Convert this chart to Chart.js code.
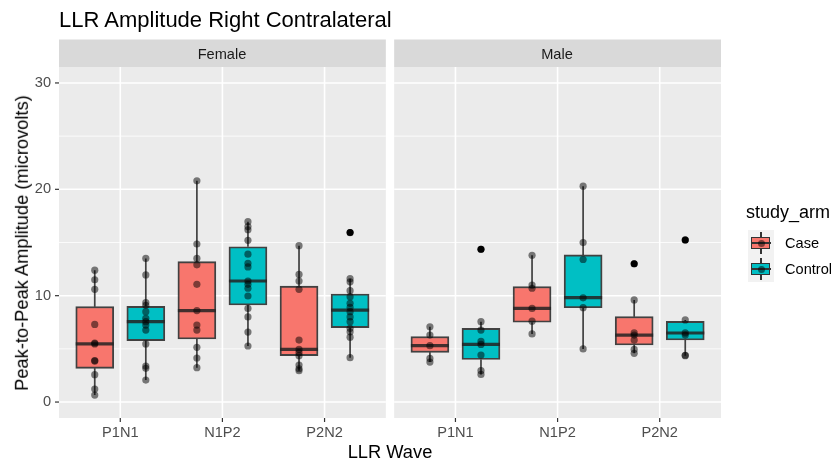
<!DOCTYPE html>
<html>
<head>
<meta charset="utf-8">
<script src="https://cdn.jsdelivr.net/npm/chart.js@4.4.1/dist/chart.umd.min.js"></script>
<style>
  body { margin: 0; background: #fff; font-family: "Liberation Sans", Arial, sans-serif; }
  #wrap { position: relative; width: 833px; height: 462px; overflow: hidden; }
  #plot { position: absolute; left: 0; top: 0; }
  .txt { position: absolute; white-space: nowrap; line-height: 1; }
  .c { transform: translate(-50%, -50%); }
  .strip { font-size: 14.6px; color: #1A1A1A; }
  .key { position: absolute; width: 26px; height: 26px; background: #F2F2F2; }
  .key .wh { position: absolute; left: 12.2px; top: 2px; width: 1.6px; height: 22px; background: #333; }
  .key .bx { position: absolute; left: 3px; top: 6.5px; width: 17px; height: 10px; border: 1.6px solid #333; }
  .key .md { position: absolute; left: 3px; top: 11.8px; width: 20px; height: 2.4px; background: #333; }
  .key .pt { position: absolute; left: 9.5px; top: 9.5px; width: 7px; height: 7px; border-radius: 50%; background: rgba(0,0,0,0.5); }
</style>
</head>
<body>
<div id="wrap">
  <canvas id="plot" width="833" height="462"></canvas>
  <div class="txt" style="left:59px;top:20px;font-size:22px;color:#000;transform:translateY(-50%);">LLR Amplitude Right Contralateral</div>
  <div class="txt strip c" style="left:222px;top:54px;">Female</div>
  <div class="txt strip c" style="left:557px;top:54px;">Male</div>
  <div class="txt c" style="left:390px;top:452px;font-size:18.3px;color:#000;">LLR Wave</div>
  <div class="txt" style="left:22px;top:243px;font-size:18.3px;color:#000;transform:translate(-50%,-50%) rotate(-90deg);">Peak-to-Peak Amplitude (microvolts)</div>
  <div class="txt" style="left:746px;top:212px;font-size:18px;color:#000;transform:translateY(-50%);">study_arm</div>
  <div class="key" style="left:748px;top:230px;"><div class="wh"></div><div class="bx" style="background:#F8766D"></div><div class="md"></div><div class="pt"></div></div>
  <div class="txt" style="left:785px;top:243px;font-size:14.6px;color:#000;transform:translateY(-50%);">Case</div>
  <div class="key" style="left:748px;top:256px;"><div class="wh"></div><div class="bx" style="background:#00BFC4"></div><div class="md"></div><div class="pt"></div></div>
  <div class="txt" style="left:785px;top:269px;font-size:14.6px;color:#000;transform:translateY(-50%);">Control</div>
</div>
<script>
// Categories
const waves = ["P1N1", "N1P2", "P2N2"];
const sexes = ["Female", "Male"];
const arms = ["Case", "Control"];
const armColors = ["#F8766D", "#00BFC4"];
const yTicks = [0, 10, 20, 30];

// Box stats per wave: [lower whisker, q1, median, q3, upper whisker]
const femaleCaseBox = [[0.66, 3.17, 5.46, 8.97, 12.4], [3.23, 5.93, 8.6, 13.2, 20.8], [2.95, 4.36, 4.95, 10.9, 14.7]];
const femaleControlBox = [[2.07, 5.77, 7.56, 9.0, 13.5], [5.27, 9.12, 11.38, 14.6, 16.96], [4.17, 7.0, 8.65, 10.16, 11.6]];
const maleCaseBox = [[3.76, 4.67, 5.3, 6.15, 7.08], [6.4, 7.5, 8.8, 10.85, 13.8], [4.58, 5.36, 6.3, 8.03, 9.6]];
const maleControlBox = [[2.6, 4.0, 5.42, 6.93, 7.56], [4.99, 8.87, 9.81, 13.83, 20.3], [4.36, 5.83, 6.49, 7.59, 7.72]];

// Outliers per wave
const femaleCaseOut = [[], [], []];
const femaleControlOut = [[], [], [15.93]];
const maleCaseOut = [[], [], [13.0]];
const maleControlOut = [[14.36], [], [15.24]];

// Individual observations per wave
const femaleCasePts = [
  [12.4, 11.5, 10.6, 7.3, 5.55, 5.46, 3.9, 3.85, 2.57, 1.22, 0.66],
  [20.8, 14.86, 13.5, 12.9, 11.07, 8.6, 7.24, 6.77, 5.14, 4.14, 3.23],
  [14.7, 12.0, 11.38, 10.6, 5.83, 4.95, 4.64, 4.36, 3.48, 3.13, 2.95]
];
const femaleControlPts = [
  [13.5, 11.95, 9.35, 9.1, 8.5, 7.87, 7.56, 7.24, 6.77, 5.46, 3.39, 3.17, 2.07],
  [16.96, 16.5, 16.2, 15.2, 13.9, 13.05, 12.7, 11.38, 11.07, 10.7, 9.97, 8.8, 8.0, 6.58, 5.27],
  [15.93, 11.6, 11.3, 10.47, 9.9, 9.28, 8.9, 8.5, 8.0, 7.56, 6.93, 6.6, 6.1, 4.17]
];
const maleCasePts = [
  [7.08, 6.3, 5.3, 4.1, 3.76],
  [13.8, 11.0, 10.7, 8.8, 7.6, 6.4],
  [13.0, 9.6, 6.5, 6.3, 5.83, 4.95, 4.58]
];
const maleControlPts = [
  [14.36, 7.56, 6.77, 5.7, 5.42, 4.42, 2.95, 2.6],
  [20.3, 14.99, 13.4, 9.8, 8.87, 4.99],
  [15.24, 7.72, 6.5, 6.3, 4.4, 4.36]
];

// layout on the shared linear x axis: each panel spans 3.2 units, small gap between
const panelShift = 3.2815;
const dodge = 0.25;

function xPos(sexIdx, waveIdx, armIdx) {
  return waveIdx + 1 + sexIdx * panelShift + (armIdx === 0 ? -dodge : dodge);
}

// Gather groups
const groupSrc = [
  [0, 0, femaleCaseBox, femaleCasePts, femaleCaseOut],
  [0, 1, femaleControlBox, femaleControlPts, femaleControlOut],
  [1, 0, maleCaseBox, maleCasePts, maleCaseOut],
  [1, 1, maleControlBox, maleControlPts, maleControlOut]
];
const groups = [];
groupSrc.forEach(([s, a, box, pts, out]) => {
  waves.forEach((w, i) => {
    groups.push({ x: xPos(s, i, a), arm: a, box: box[i], pts: pts[i], out: out[i] });
  });
});

const boxData = groups.map(g => ({ x: g.x, y: [g.box[1], g.box[3]] }));
const boxColors = groups.map(g => armColors[g.arm]);
const pointData = [];
groups.forEach(g => g.pts.forEach(v => pointData.push({ x: g.x, y: v })));

const xTickVals = [];
const xTickLabels = [];
sexes.forEach((s, si) => waves.forEach((w, wi) => {
  xTickVals.push(wi + 1 + si * panelShift);
  xTickLabels.push(w);
}));

const panels = sexes.map((s, si) => [0.4 + si * panelShift, 3.6 + si * panelShift]);

// Panel backgrounds, grid, strips and tick marks
const panelPlugin = {
  id: "panels",
  beforeDatasetsDraw(chart) {
    const { ctx, chartArea: ca, scales: { x, y } } = chart;
    ctx.save();
    panels.forEach(([a, b], pi) => {
      const l = x.getPixelForValue(a), r = x.getPixelForValue(b);
      ctx.fillStyle = "#EBEBEB";
      ctx.fillRect(l, ca.top, r - l, ca.bottom - ca.top);
      ctx.fillStyle = "#D9D9D9";
      ctx.fillRect(l, 39.5, r - l, ca.top - 39.5);
      ctx.strokeStyle = "#FFFFFF";
      [5, 15, 25].forEach(v => {
        const py = y.getPixelForValue(v);
        ctx.lineWidth = 0.8;
        ctx.beginPath(); ctx.moveTo(l, py); ctx.lineTo(r, py); ctx.stroke();
      });
      yTicks.forEach(v => {
        const py = y.getPixelForValue(v);
        ctx.lineWidth = 1.6;
        ctx.beginPath(); ctx.moveTo(l, py); ctx.lineTo(r, py); ctx.stroke();
      });
      waves.forEach((w, wi) => {
        const px = x.getPixelForValue(wi + 1 + pi * panelShift);
        ctx.strokeStyle = "#FFFFFF";
        ctx.lineWidth = 1.6;
        ctx.beginPath(); ctx.moveTo(px, ca.top); ctx.lineTo(px, ca.bottom); ctx.stroke();
        ctx.strokeStyle = "#333333";
        ctx.lineWidth = 1.2;
        ctx.beginPath(); ctx.moveTo(px, ca.bottom); ctx.lineTo(px, ca.bottom + 4); ctx.stroke();
      });
    });
    ctx.strokeStyle = "#333333";
    ctx.lineWidth = 1.2;
    yTicks.forEach(v => {
      const py = y.getPixelForValue(v);
      ctx.beginPath(); ctx.moveTo(ca.left - 4, py); ctx.lineTo(ca.left, py); ctx.stroke();
    });
    ctx.restore();
  },
  // whiskers, medians and outliers on top of the boxes
  afterDatasetDraw(chart, args) {
    if (args.index !== 0) return;
    const { ctx, scales: { x, y } } = chart;
    const bars = args.meta.data;
    ctx.save();
    ctx.strokeStyle = "rgba(35,35,35,0.85)";
    groups.forEach((g, i) => {
      const px = x.getPixelForValue(g.x);
      const half = bars[i].width / 2;
      ctx.lineWidth = 1.7;
      ctx.beginPath();
      ctx.moveTo(px, y.getPixelForValue(g.box[3])); ctx.lineTo(px, y.getPixelForValue(g.box[4]));
      ctx.moveTo(px, y.getPixelForValue(g.box[1])); ctx.lineTo(px, y.getPixelForValue(g.box[0]));
      ctx.stroke();
      ctx.lineWidth = 3.2;
      const pm = y.getPixelForValue(g.box[2]);
      ctx.beginPath(); ctx.moveTo(px - half, pm); ctx.lineTo(px + half, pm); ctx.stroke();
      ctx.fillStyle = "#000";
      g.out.forEach(v => {
        ctx.beginPath(); ctx.arc(px, y.getPixelForValue(v), 3.5, 0, Math.PI * 2); ctx.fill();
      });
    });
    ctx.restore();
  }
};

const ctx = document.getElementById("plot").getContext("2d");
new Chart(ctx, {
  type: "bar",
  data: {
    datasets: [
      {
        label: "boxes",
        data: boxData,
        backgroundColor: boxColors,
        borderColor: "rgba(35,35,35,0.85)",
        borderWidth: 1.9,
        borderSkipped: false,
        barThickness: 38,
        order: 2
      },
      {
        type: "scatter",
        label: "obs",
        data: pointData,
        backgroundColor: "rgba(0,0,0,0.5)",
        borderWidth: 0,
        pointRadius: 3.6,
        order: 1
      }
    ]
  },
  options: {
    responsive: false,
    animation: false,
    layout: { padding: { top: 67, right: 112, left: 0, bottom: 0 } },
    plugins: { legend: { display: false }, tooltip: { enabled: false } },
    scales: {
      x: {
        type: "linear",
        offset: false,
        min: 0.4,
        max: 3.6 + panelShift,
        grid: { display: false, drawTicks: false },
        border: { display: false },
        afterBuildTicks: s => { s.ticks = xTickVals.map(v => ({ value: v })); },
        afterFit: s => { s.height = 44; },
        ticks: {
          autoSkip: false,
          maxRotation: 0,
          padding: 6,
          color: "#4D4D4D",
          font: { family: "Liberation Sans", size: 14.6 },
          callback: (v, i) => xTickLabels[i]
        }
      },
      y: {
        min: -1.5,
        max: 31.5,
        grid: { display: false, drawTicks: false },
        border: { display: false },
        afterBuildTicks: s => { s.ticks = yTicks.map(v => ({ value: v })); },
        afterFit: s => { s.width = 59; },
        ticks: {
          padding: 8,
          color: "#4D4D4D",
          font: { family: "Liberation Sans", size: 14.6 }
        }
      }
    }
  },
  plugins: [panelPlugin]
});
</script>
</body>
</html>
